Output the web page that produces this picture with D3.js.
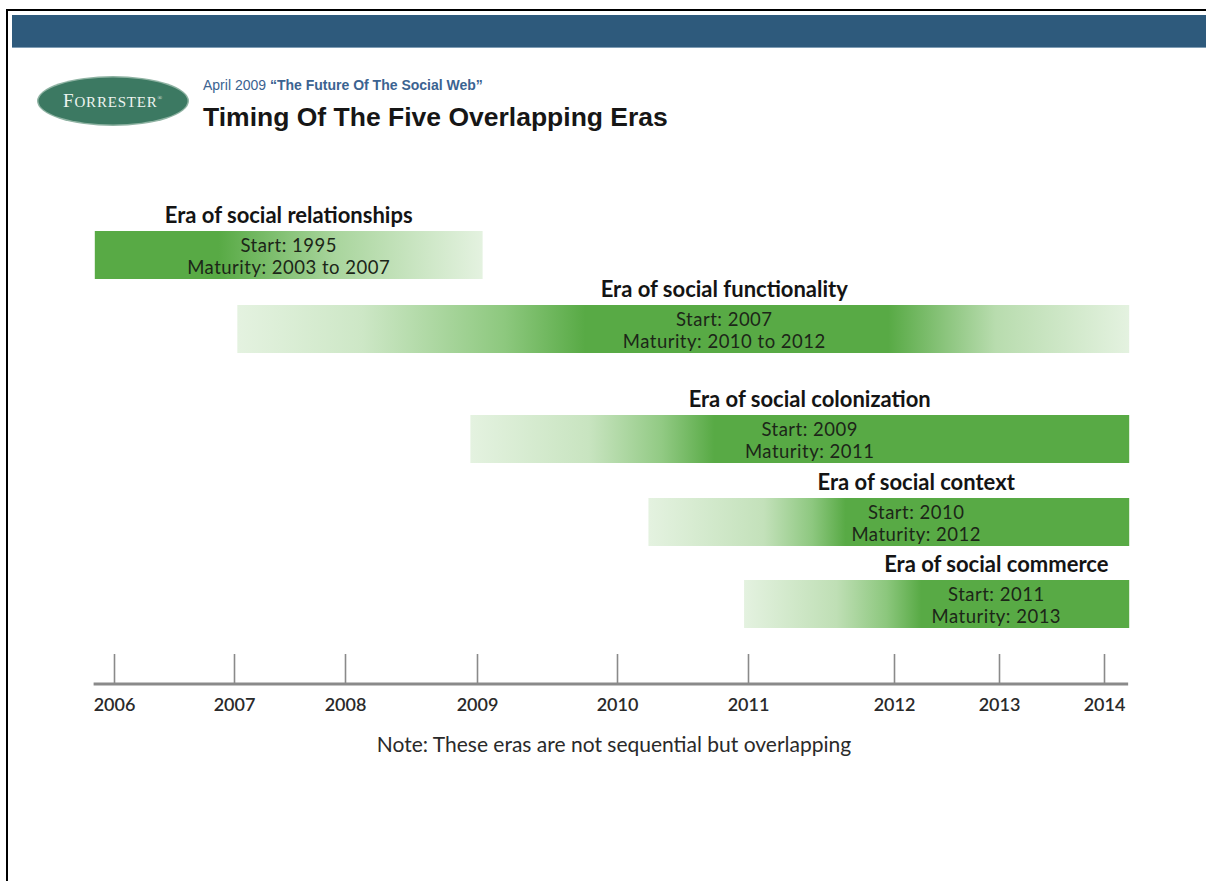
<!DOCTYPE html>
<html>
<head>
<meta charset="utf-8">
<script src="https://cdn.jsdelivr.net/npm/d3@7"></script>
<style>
  html, body { margin: 0; padding: 0; background: #fff; }
  svg { display: block; }
</style>
</head>
<body>
<script>
// ---- data -------------------------------------------------------------
const years = [2006, 2007, 2008, 2009, 2010, 2011, 2012, 2013, 2014];
const yearLabels = ["2006", "2007", "2008", "2009", "2010", "2011", "2012", "2013", "2014"];
const eras = [
  "Era of social relationships",
  "Era of social functionality",
  "Era of social colonization",
  "Era of social context",
  "Era of social commerce"
];
const startYears = [1995, 2007, 2009, 2010, 2011];
const maturity = ["2003 to 2007", "2010 to 2012", "2011", "2012", "2013"];
// visible extent of each era bar on the timeline (years)
const barFrom = [2005.84, 2007.03, 2008.95, 2010.24, 2010.97];
const barTo   = [2009.04, 2014.24, 2014.24, 2014.24, 2014.24];
const axisFrom = 2005.83, axisTo = 2014.23;

// ---- layout -----------------------------------------------------------
const W = 1206, H = 881;
const tickPx = [114, 234, 345, 477, 617, 748, 894, 999, 1104];   // uneven timeline spacing
const rowTops = [231, 305, 415, 498, 580];
const BAR_H = 48;
const textAt = [0.5, 0.546, 0.515, 0.557, 0.655];                 // text centre within each bar
const AXIS_Y = 684;

const DARK = "#58aa45", LIGHT = "#e4f2e0";
const fades = [
  [[0, DARK], [0.32, DARK], [0.62, "#a9d59d"], [1, LIGHT]],
  [[0, LIGHT], [0.14, "#cde7c6"], [0.3, "#8dc87e"], [0.39, DARK], [0.73, DARK], [0.85, "#b8dcae"], [1, LIGHT]],
  [[0, LIGHT], [0.18, "#c8e4c0"], [0.29, "#92ca84"], [0.37, DARK], [1, DARK]],
  [[0, LIGHT], [0.24, "#c3e1ba"], [0.34, "#8ec880"], [0.41, DARK], [1, DARK]],
  [[0, LIGHT], [0.24, "#bfdfb5"], [0.37, "#8cc77d"], [0.46, DARK], [1, DARK]]
];

const x = d3.scaleLinear().domain(years).range(tickPx);
const y = d3.scaleOrdinal().domain(eras).range(rowTops);

const svg = d3.select("body").append("svg")
  .attr("width", W).attr("height", H)
  .attr("viewBox", `0 0 ${W} ${H}`);

// ---- frame & header band ----------------------------------------------
svg.append("rect").attr("x", 0).attr("y", 0).attr("width", W).attr("height", H).attr("fill", "#fff");
svg.append("rect").attr("x", 12).attr("y", 15).attr("width", W - 12).attr("height", 33).attr("fill", "#2e5a7c");
svg.append("line").attr("x1", 12).attr("x2", W).attr("y1", 47.5).attr("y2", 47.5)
  .attr("stroke", "#7f9db5").attr("stroke-width", 1);
svg.append("line").attr("x1", 7).attr("x2", W).attr("y1", 10).attr("y2", 10)
  .attr("stroke", "#000").attr("stroke-width", 2);
svg.append("line").attr("x1", 7).attr("x2", 7).attr("y1", 9).attr("y2", H)
  .attr("stroke", "#000").attr("stroke-width", 2);

// ---- logo -------------------------------------------------------------
const logo = svg.append("g").attr("transform", "translate(113,101)");
logo.append("ellipse").attr("rx", 76).attr("ry", 25).attr("fill", "#8fb3a3");
logo.append("ellipse").attr("rx", 74.5).attr("ry", 23.5).attr("fill", "#3c7962");
const logoText = logo.append("text")
  .attr("text-anchor", "middle").attr("y", 6)
  .attr("font-family", "'Liberation Serif', 'DejaVu Serif', serif")
  .attr("fill", "#eef4f0").attr("letter-spacing", 0.8);
logoText.append("tspan").attr("font-size", 19).text("F");
logoText.append("tspan").attr("font-size", 15).text("ORRESTER");
logoText.append("tspan").attr("font-size", 6).attr("dy", -7).text("®");

// ---- titles -----------------------------------------------------------
const sub = svg.append("text").attr("x", 203).attr("y", 90)
  .attr("font-family", "'Liberation Sans', Arial, sans-serif")
  .attr("font-size", 14).attr("fill", "#3b6391");
sub.append("tspan").text("April 2009 ");
sub.append("tspan").attr("font-weight", "bold").text("\u201CThe Future Of The Social Web\u201D");

svg.append("text").attr("x", 203).attr("y", 126)
  .attr("font-family", "'Liberation Sans', Arial, sans-serif")
  .attr("font-size", 26.5).attr("font-weight", "bold").attr("fill", "#161616")
  .text("Timing Of The Five Overlapping Eras");

// ---- era bars ---------------------------------------------------------
const defs = svg.append("defs");
eras.forEach((e, i) => {
  const g = defs.append("linearGradient").attr("id", "fade" + i)
    .attr("x1", "0%").attr("x2", "100%").attr("y1", "0%").attr("y2", "0%");
  fades[i].forEach(s => g.append("stop").attr("offset", s[0]).attr("stop-color", s[1]));
});

const rows = svg.append("g").selectAll("g").data(eras).join("g");

rows.append("rect")
  .attr("x", (d, i) => x(barFrom[i]))
  .attr("y", d => y(d))
  .attr("width", (d, i) => x(barTo[i]) - x(barFrom[i]))
  .attr("height", BAR_H)
  .attr("fill", (d, i) => `url(#fade${i})`);

const cx = i => x(barFrom[i]) + textAt[i] * (x(barTo[i]) - x(barFrom[i]));
const FONT = "Lato, 'Open Sans', sans-serif";

rows.append("text")
  .attr("x", (d, i) => cx(i))
  .attr("y", d => y(d) - 8)
  .attr("text-anchor", "middle")
  .attr("font-family", FONT).attr("font-weight", "bold")
  .attr("font-size", 22).attr("fill", "#141414")
  .text(d => d);

rows.append("text")
  .attr("x", (d, i) => cx(i))
  .attr("y", d => y(d) + 20.5)
  .attr("text-anchor", "middle")
  .attr("font-family", FONT).attr("font-size", 18.5).attr("letter-spacing", 0.5)
  .attr("fill", "#1c2618")
  .text((d, i) => "Start: " + startYears[i]);

rows.append("text")
  .attr("x", (d, i) => cx(i))
  .attr("y", d => y(d) + 43)
  .attr("text-anchor", "middle")
  .attr("font-family", FONT).attr("font-size", 18.5).attr("letter-spacing", 0.5)
  .attr("fill", "#1c2618")
  .text((d, i) => "Maturity: " + maturity[i]);

// ---- timeline axis ----------------------------------------------------
svg.append("line")
  .attr("x1", x(axisFrom)).attr("x2", x(axisTo))
  .attr("y1", AXIS_Y).attr("y2", AXIS_Y)
  .attr("stroke", "#8a8a8a").attr("stroke-width", 3);

const axis = d3.axisBottom(x)
  .tickValues(years)
  .tickFormat((d, i) => yearLabels[i])
  .tickSizeInner(-29).tickSizeOuter(0).tickPadding(15);

const ag = svg.append("g").attr("transform", `translate(0,${AXIS_Y - 1})`).call(axis);
ag.select(".domain").remove();
ag.selectAll(".tick line").attr("stroke", "#8a8a8a").attr("stroke-width", 1.6);
ag.selectAll(".tick text")
  .attr("font-family", FONT).attr("font-size", 18).attr("font-weight", 600)
  .attr("fill", "#2a2a2a");

svg.append("text")
  .attr("x", 614).attr("y", 752)
  .attr("text-anchor", "middle")
  .attr("font-family", FONT).attr("font-size", 21).attr("fill", "#2a2a2a")
  .text("Note: These eras are not sequential but overlapping");
</script>
</body>
</html>
